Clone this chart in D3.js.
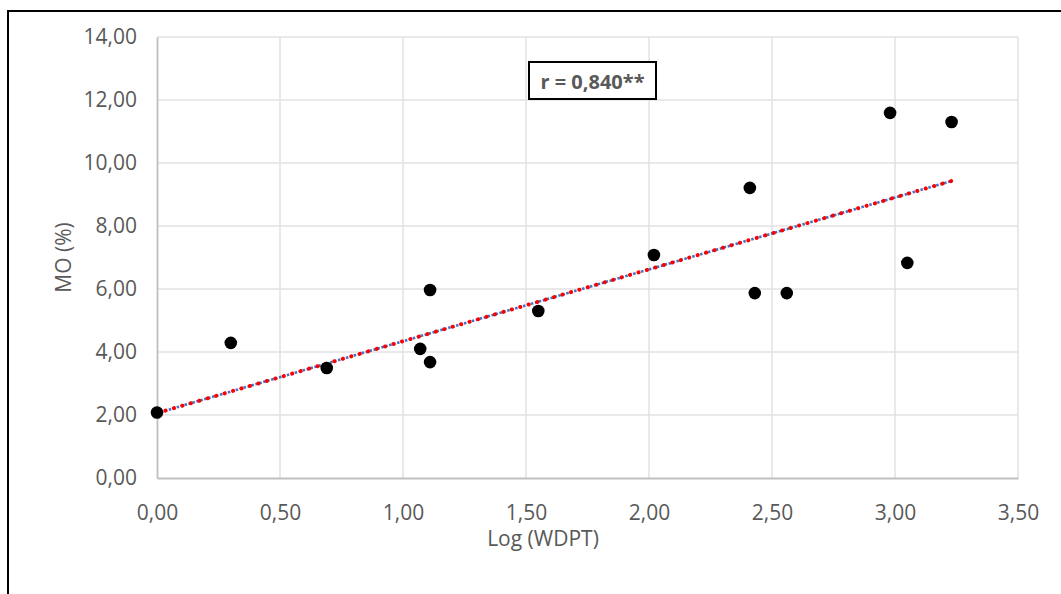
<!DOCTYPE html>
<html>
<head>
<meta charset="utf-8">
<script src="https://cdn.jsdelivr.net/npm/d3@7"></script>
<style>
  html, body { margin: 0; padding: 0; background: #fff; }
  svg { display: block; }
</style>
</head>
<body>
<svg id="chart" width="1061" height="594"></svg>
<script>
// ---- data ----
const logWDPT = [0.00, 0.30, 0.69, 1.07, 1.11, 1.11, 1.55, 2.02, 2.41, 2.43, 2.56, 2.98, 3.05, 3.23];
const moPct   = [2.08, 4.29, 3.49, 4.10, 5.97, 3.68, 5.30, 7.08, 9.21, 5.87, 5.87, 11.59, 6.83, 11.30];
const trendX  = [0.00, 3.23];
const trendY  = [2.06, 9.43];
const xTicks  = [0, 0.5, 1, 1.5, 2, 2.5, 3, 3.5];
const yTicks  = [0, 2, 4, 6, 8, 10, 12, 14];
const xTitle  = "Log (WDPT)";
const yTitle  = "MO (%)";
const rLabel  = "r = 0,840**";

// ---- layout ----
(function () {
const svg = d3.select("#chart");
const font = "'Open Sans', 'Noto Sans', sans-serif";
const fs = 21;
const pL = 157, pR = 1018, pT = 37, pB = 478;
const x = d3.scaleLinear().domain([0, 3.5]).range([pL, pR]);
const y = d3.scaleLinear().domain([0, 14]).range([pB, pT]);
const fmt = v => d3.format(".2f")(v).replace(".", ",");

// outer frame (left + top)
svg.append("path")
  .attr("d", `M8,594 L8,11 L1061,11`)
  .attr("fill", "none").attr("stroke", "#000").attr("stroke-width", 2);

// gridlines
svg.append("g").selectAll("line").data(xTicks.slice(1)).join("line")
  .attr("x1", d => x(d)).attr("x2", d => x(d))
  .attr("y1", pT).attr("y2", pB)
  .attr("stroke", "#e2e2e2").attr("stroke-width", 1.5);
svg.append("g").selectAll("line").data(yTicks.slice(1)).join("line")
  .attr("x1", pL).attr("x2", pR)
  .attr("y1", d => y(d)).attr("y2", d => y(d))
  .attr("stroke", "#e2e2e2").attr("stroke-width", 1.5);

// axes
const xAxis = svg.append("g").attr("transform", `translate(0,${pB})`)
  .call(d3.axisBottom(x).tickValues(xTicks).tickFormat(fmt).tickSize(0).tickPadding(27));
const yAxis = svg.append("g").attr("transform", `translate(${pL},0)`)
  .call(d3.axisLeft(y).tickValues(yTicks).tickFormat(fmt).tickSize(0).tickPadding(20));
[xAxis, yAxis].forEach(a => {
  a.select(".domain").attr("stroke", "#bfbfbf").attr("stroke-width", 1.8);
  a.selectAll("text").attr("font-family", font).attr("font-size", fs).attr("fill", "#595959");
});

// axis titles
svg.append("text").attr("x", 543).attr("y", 546).attr("text-anchor", "middle")
  .attr("font-family", font).attr("font-size", fs).attr("fill", "#595959").text(xTitle);
svg.append("text").attr("transform", `translate(71,${(pT + pB) / 2}) rotate(-90)`)
  .attr("text-anchor", "middle")
  .attr("font-family", font).attr("font-size", fs).attr("fill", "#595959").text(yTitle);

// trendline (blue dotted under red round dots)
const line = d3.line().x(d => x(d[0])).y(d => y(d[1]));
const trend = d3.zip(trendX, trendY);
svg.append("path").datum(trend).attr("d", line)
  .attr("fill", "none").attr("stroke", "#4472c4").attr("stroke-width", 2.6)
  .attr("stroke-dasharray", "2.5 1.6");
svg.append("path").datum(trend).attr("d", line)
  .attr("fill", "none").attr("stroke", "#ff0000").attr("stroke-width", 4)
  .attr("stroke-linecap", "round").attr("stroke-dasharray", "0.1 8.7");

// points
svg.append("g").selectAll("circle").data(d3.zip(logWDPT, moPct)).join("circle")
  .attr("cx", d => x(d[0])).attr("cy", d => y(d[1])).attr("r", 6.3)
  .attr("fill", "#000");

// r label box
svg.append("rect").attr("x", 529).attr("y", 62).attr("width", 127).attr("height", 37)
  .attr("fill", "#fff").attr("stroke", "#000").attr("stroke-width", 2);
svg.append("text").attr("x", 592.5).attr("y", 89).attr("text-anchor", "middle")
  .attr("font-family", font).attr("font-size", 20).attr("font-weight", "bold")
  .attr("fill", "#595959").text(rLabel);
})();
</script>
</body>
</html>
